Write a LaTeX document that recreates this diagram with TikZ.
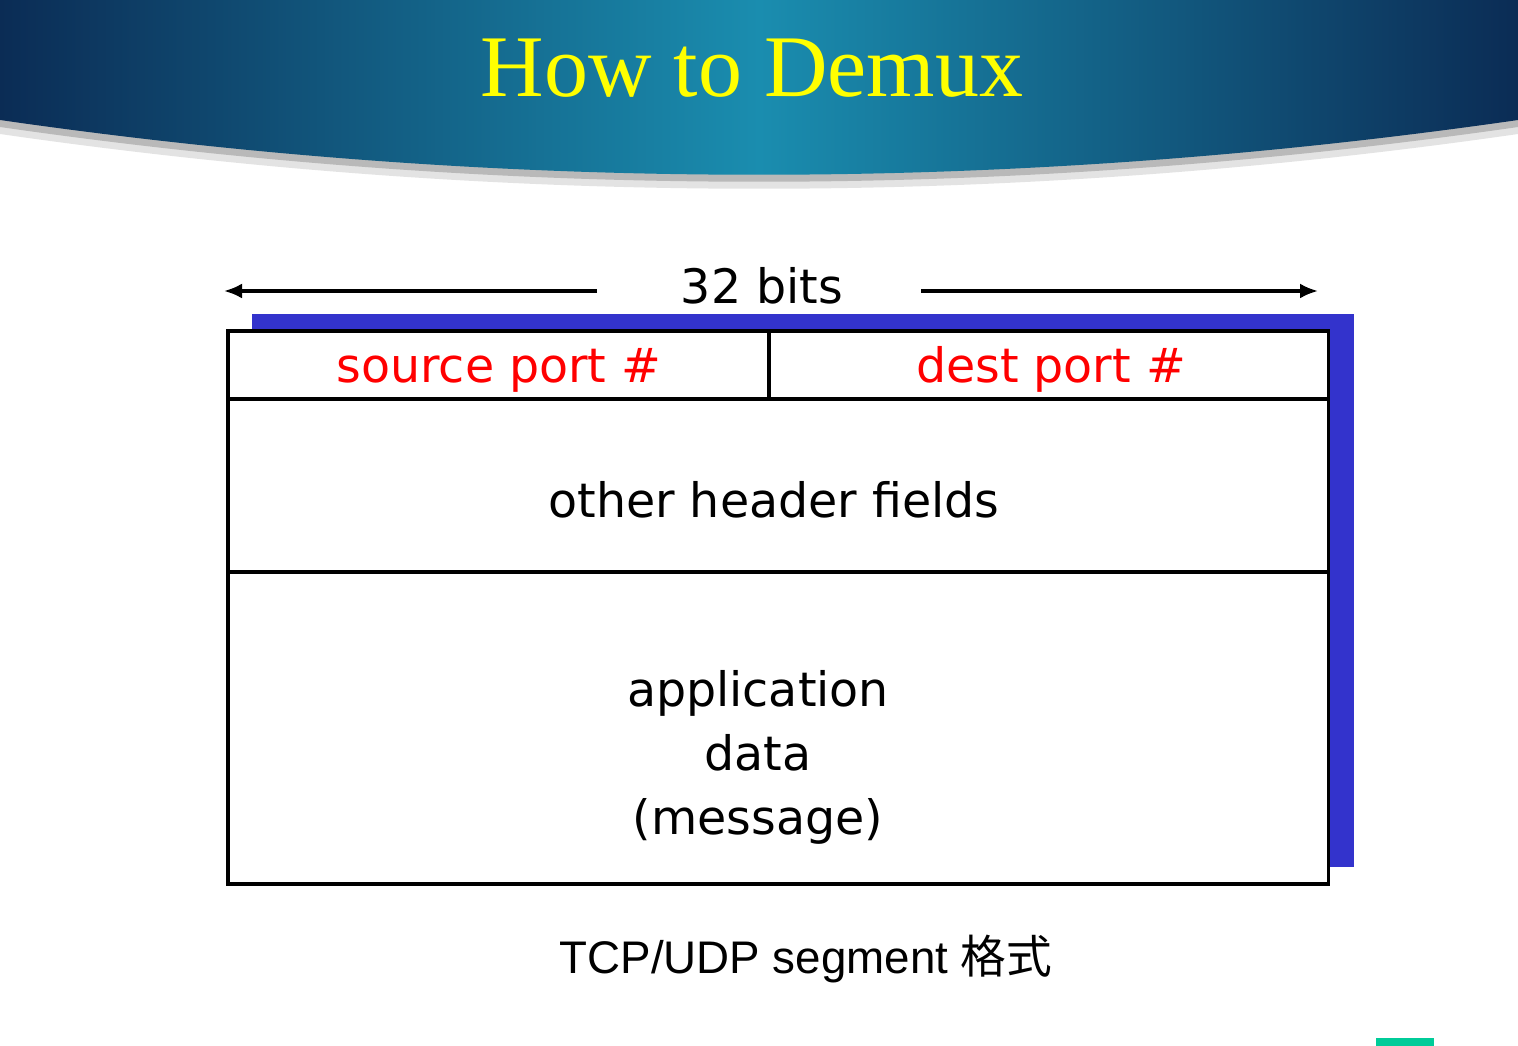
\documentclass[tikz,border=0pt]{standalone}
\usepackage{fontspec}
\setmainfont{Liberation Serif}
\newfontfamily\handfont{DejaVu Sans}
\newfontfamily\capfont{Liberation Sans}
\newfontfamily\cjkfont{Noto Sans CJK SC}
\usetikzlibrary{arrows.meta, positioning}
\definecolor{cnavy}{HTML}{0B2C55}
\definecolor{cteal}{HTML}{1A8DAF}
\definecolor{cblue}{HTML}{3333CC}
\definecolor{cred}{HTML}{FF0000}
\definecolor{cyellow}{HTML}{FFFF00}
\definecolor{cgreen}{HTML}{00CC99}
\tikzset{
  every picture/.style={line width=1pt},
  title/.style={font=\fontsize{25}{30}\selectfont, text=cyellow},
  hand/.style={font=\handfont\fontsize{13.5}{18.2}\selectfont, inner sep=0pt},
  caption/.style={font=\capfont\fontsize{13}{16}\selectfont, inner sep=0pt},
  field/.style={draw=black, fill=white, line width=1.1pt, inner sep=0pt, outer sep=0pt},
  arrow/.style={-{Latex[length=1.8mm, width=1.5mm]}, line width=0.9pt},
}

\begin{document}
\begin{tikzpicture}[x=0.01cm, y=-0.01cm]
  \useasboundingbox (0,0) rectangle (1518,1046);
  % banner
  \fill[gray!22] (0,134) .. controls (506,207) and (1012,207) .. (1518,134) -- (1518,0) -- (0,0) -- cycle;
  \fill[gray!55] (0,127) .. controls (506,200) and (1012,200) .. (1518,127) -- (1518,0) -- (0,0) -- cycle;
  \shade[left color=cnavy, right color=cnavy, middle color=cteal] (0,0) -- (1518,0) -- (1518,120) .. controls (1012,193) and (506,193) .. (0,120) -- cycle;
  \node[title, anchor=base] (title) at (752,97) {How to Demux};
  % width arrows
  \node[hand, anchor=base] (bits) at (762,304) {32 bits};
  \coordinate (lstart) at (597,291);
  \coordinate (lend) at (224,291);
  \coordinate (rstart) at (921,291);
  \coordinate (rend) at (1318,291);
  \draw[arrow] (lstart) -- (lend);
  \draw[arrow] (rstart) -- (rend);
  % segment
  \fill[cblue] (252,314) rectangle (1354,867);
  \node[field, minimum width=5.41cm, minimum height=0.68cm] (src) at (498.5,365) {};
  \node[field, minimum width=5.59cm, minimum height=0.68cm, right=0pt of src] (dst) {};
  \node[field, minimum width=11cm, minimum height=1.73cm, anchor=north west] (hdr) at (src.south west) {};
  \node[field, minimum width=11cm, minimum height=3.12cm, anchor=north west] (data) at (hdr.south west) {};
  \node[hand, text=cred, anchor=base] (srclbl) at (499,383) {source port \#};
  \node[hand, text=cred, anchor=base] (dstlbl) at (1051,383) {dest port \#};
  \node[hand, anchor=base] (hdrlbl) at (774,518) {other header fields};
  \node[hand, align=center] (datalbl) at (758,757) {application\\data\\(message)};
  % caption
  \node[caption, anchor=base] (cap) at (806,973) {TCP/UDP segment {\cjkfont 格式}};
  \fill[cgreen] (1376,1038) rectangle (1434,1046);
\end{tikzpicture}
\end{document}
